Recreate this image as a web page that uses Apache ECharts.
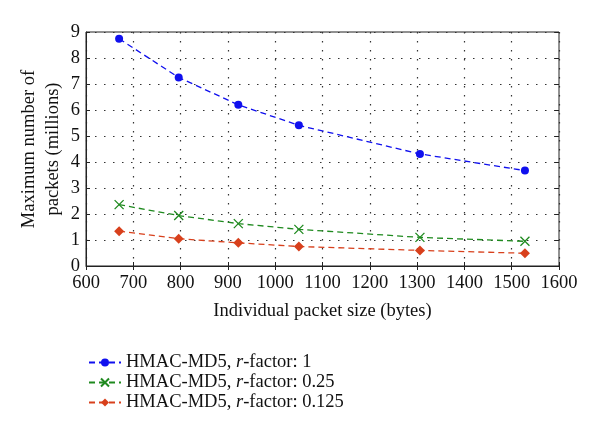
<!DOCTYPE html>
<html><head><meta charset="utf-8">
<script src="https://cdn.jsdelivr.net/npm/echarts@6/dist/echarts.min.js"></script>
<style>html,body{margin:0;padding:0;background:#fff}#c{width:600px;height:436px}</style>
</head><body><div id="c"></div>
<script>
const packetSize = [670, 796, 922, 1050, 1306, 1528];
const rFactor1 = [8.74, 7.25, 6.2, 5.41, 4.31, 3.67];
const rFactor025 = [2.36, 1.94, 1.63, 1.41, 1.1, 0.95];
const rFactor0125 = [1.34, 1.05, 0.89, 0.75, 0.6, 0.49];
const seriesNames = ['HMAC-MD5, r-factor: 1', 'HMAC-MD5, r-factor: 0.25', 'HMAC-MD5, r-factor: 0.125'];
const xName = 'Individual packet size (bytes)';
const yName = 'Maximum number of\npackets (millions)';

const font = 'Liberation Serif';
const fs = 18.5;
const pair = (xs, ys) => xs.map((x, i) => [x, ys[i]]);
const mk = (name, data, color, symbol, size, extra) => Object.assign({
  name, type: 'line', data: pair(packetSize, data), symbol, symbolSize: size,
  lineStyle: {color, width: 1.3, type: [6, 4]},
  itemStyle: {color}, xAxisIndex: 0, yAxisIndex: 0
}, extra || {});

const chart = echarts.init(document.getElementById('c'), null, {renderer: 'canvas'});
const hiddenAxisCommon = {axisLabel: {show: false}, splitLine: {show: false}, axisLine: {show: false}};
const gridLine = {show: true, lineStyle: {color: '#333', type: [1.5, 7.5], width: 1.2}};
chart.setOption({
  animation: false,
  textStyle: {fontFamily: font},
  grid: {left: 86, right: 41, top: 32, bottom: 170, show: true, borderColor: '#222', borderWidth: 1},
  xAxis: [{
    type: 'value', min: 600, max: 1600, interval: 100,
    name: xName, nameLocation: 'middle', nameGap: 36,
    nameTextStyle: {fontSize: fs, color: '#111', fontFamily: font},
    axisLine: {show: true, lineStyle: {color: '#222'}},
    axisTick: {show: true, inside: true, length: 4, lineStyle: {color: '#222'}},
    axisLabel: {fontSize: fs, color: '#111', margin: 8, fontFamily: font, formatter: v => String(v)},
    splitLine: gridLine
  }, Object.assign({
    type: 'value', min: 600, max: 1600, interval: 100, position: 'top',
    axisTick: {show: true, inside: true, length: 4, lineStyle: {color: '#222'}}
  }, hiddenAxisCommon)],
  yAxis: [{
    type: 'value', min: 0, max: 9, interval: 1,
    name: yName, nameLocation: 'middle', nameGap: 21, nameRotate: 90, nameMoveOverlap: false,
    nameTextStyle: {fontSize: fs, color: '#111', fontFamily: font, lineHeight: 24},
    axisLine: {show: true, lineStyle: {color: '#222'}},
    axisTick: {show: true, inside: true, length: 4, lineStyle: {color: '#222'}},
    axisLabel: {fontSize: fs, color: '#111', margin: 6, fontFamily: font},
    splitLine: gridLine
  }, Object.assign({
    type: 'value', min: 0, max: 9, interval: 1, position: 'right',
    axisTick: {show: true, inside: true, length: 4, lineStyle: {color: '#222'}}
  }, hiddenAxisCommon)],
  legend: {
    orient: 'vertical', left: 83, top: 348, itemGap: 1, itemWidth: 32, itemHeight: 10,
    data: seriesNames,
    formatter: function (n) {
      const m = n.split('r-factor');
      return '{n|' + m[0] + '}{i|r}{n|-factor' + m[1] + '}';
    },
    textStyle: {
      fontSize: fs, color: '#111', fontFamily: font,
      rich: {n: {fontSize: fs, fontFamily: font, color: '#111'},
             i: {fontSize: fs, fontFamily: font, fontStyle: 'italic', color: '#111'}}
    }
  },
  series: [
    mk(seriesNames[0], rFactor1, '#1010ee', 'circle', 8),
    mk(seriesNames[1], rFactor025, '#1f8a1f', 'path://M0,0L10,10M10,0L0,10', 9,
       {itemStyle: {color: '#1f8a1f', borderColor: '#1f8a1f', borderWidth: 1.3}}),
    mk(seriesNames[2], rFactor0125, '#d8401c', 'diamond', 10)
  ]
});
</script></body></html>
